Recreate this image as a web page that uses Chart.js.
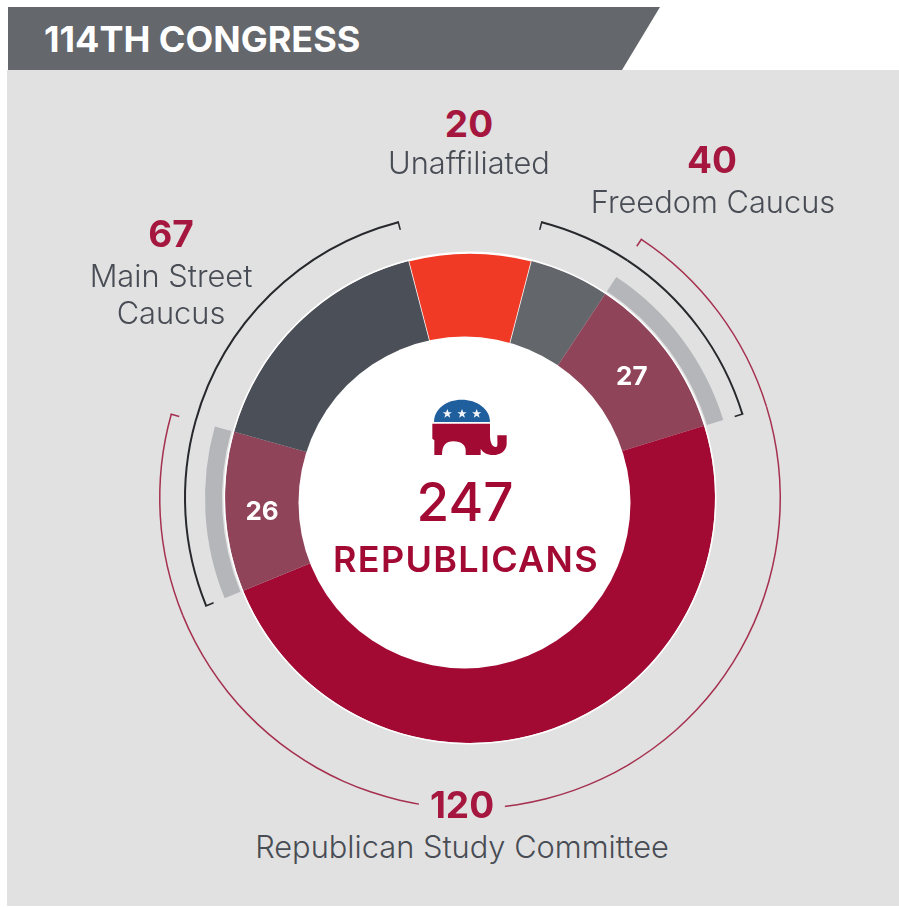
<!DOCTYPE html>
<html lang="en">
<head>
<meta charset="UTF-8">
<title>114th Congress</title>
<script src="https://cdn.jsdelivr.net/npm/chart.js@4"></script>
<style>
    html, body { margin: 0; background: #fff; }
    #page { position: relative; width: 899px; height: 907px; overflow: hidden; font-family: Inter, "Noto Sans", sans-serif; }
    #panel { position: absolute; left: 7px; top: 70px; width: 892px; height: 836px; background: #e1e1e1; }
    #banner { position: absolute; left: 8px; top: 7px; width: 652px; height: 63px; background: #64676b;
        clip-path: polygon(0 0, 100% 0, 614px 100%, 0 100%); }
    #title { position: absolute; left: 44px; top: 18px; font-size: 36px; line-height: 42px; font-weight: 700; color: #fff; white-space: nowrap; }
    #myChart { position: absolute; left: 150px; top: 178px; }
    .num, .name, .mid { position: absolute; transform: translateX(-50%); text-align: center; white-space: nowrap; }
    .num { font-size: 37px; line-height: 40px; font-weight: 700; color: #a5173f; }
    .name { font-size: 30.800px; line-height: 37px; font-weight: 300; color: #484c54; }
    #total { left: 465px; top: 469px; font-size: 53px; line-height: 66px; font-weight: 500; color: #a20a33; }
    #party { left: 466px; top: 537px; font-size: 36px; line-height: 44px; font-weight: 600; letter-spacing: 1.300px; color: #a20a33; }
    #num0 { left: 469px; top: 104px; }
    #name0 { left: 469px; top: 144px; }
    #num1 { left: 712px; top: 140px; }
    #name1 { left: 713px; top: 183px; }
    #num2 { left: 171px; top: 214px; }
    #name2 { left: 171px; top: 257px; }
    #num3 { left: 462px; top: 785px; background: #e1e1e1; padding: 0 11px; }
    #name3 { left: 462px; top: 828px; }
    #elephant { position: absolute; left: 430px; top: 397px; }
</style>
</head>
<body>
<div id="page">
    <div id="panel"></div>
    <div id="banner"></div>
    <div id="title"></div>
    <canvas id="myChart" width="640" height="640"></canvas>
    <svg id="elephant" width="80" height="60" viewBox="330 50 240 180">
        <path fill="#1f5f9e" d="M342 125C342 85 380 58 425 58C470 58 510 85 510 125Z"/>
        <path fill="#a20a33" d="M337 130H510V165C510 185 515 200 528 200C534 200 532 190 532 165H560V190C560 212 540 224 520 224C500 224 488 215 482 205V224H437V210C437 195 425 183 400 183C378 183 366 195 366 224H343V180L337 175Z"/>
        <g fill="#f2f4f7">
            <path id="star" d="M382 86l3.800 9.500h10l-8 6.500 3 10-8.800-6-8.800 6 3-10-8-6.500h10z"/>
            <use href="#star" x="44"/>
            <use href="#star" x="88"/>
        </g>
    </svg>
    <div class="mid" id="total"></div>
    <div class="mid" id="party"></div>
    <div class="num" id="num0"></div><div class="name" id="name0"></div>
    <div class="num" id="num1"></div><div class="name" id="name1"></div>
    <div class="num" id="num2"></div><div class="name" id="name2"></div>
    <div class="num" id="num3"></div><div class="name" id="name3"></div>
</div>
<script>
    var chartTitle = '114TH CONGRESS';
    var totalSeats = 247;
    var partyName = 'REPUBLICANS';

    // the ring, clockwise from the top
    var segmentNames = ['Unaffiliated', 'Freedom only', 'Freedom and Study', 'Study only', 'Main Street and Study', 'Main Street only'];
    var segmentValues = [20, 13, 27, 120, 26, 41];
    var segmentColors = ['#f03a26', '#63666a', '#90445a', '#a20a33', '#90445a', '#4b4f57'];
    var segmentBorders = [1.500, 0, 0, 0, 0, 0];

    // printed labels
    var groupNames = ['Unaffiliated', 'Freedom Caucus', 'Main Street<br>Caucus', 'Republican Study Committee'];
    var groupTotals = [20, 40, 67, 120];

    // which segments each outer ring covers
    var freedomSpan = [1, 2];
    var mainStreetSpan = [4, 5];
    var studySpan = [2, 3, 4];
    var overlapSpan = [2, 4];

    // the white middle sits a little off the ring's centre in the original
    var holeShiftX = -5.500;
    var holeShiftY = 4.500;
    var holeRadius = 166;

    document.querySelector('#title').textContent = chartTitle;
    document.querySelector('#total').textContent = totalSeats;
    document.querySelector('#party').textContent = partyName;
    groupNames.forEach(function (name, i) {
        document.querySelector('#num' + i).textContent = groupTotals[i];
        document.querySelector('#name' + i).innerHTML = name;
    });

    function spanColors(span, color) {
        return segmentValues.map(function (v, i) {
            return span.indexOf(i) >= 0 ? color : 'transparent';
        });
    }

    function ring(colors, weight, extra) {
        return Object.assign({ data: segmentValues, backgroundColor: colors, borderWidth: 0, weight: weight }, extra);
    }

    var blank = spanColors([], 'transparent');

    // ring weights are pixels here, since radius - cutout comes to 155
    var datasets = [
        ring(spanColors(studySpan, '#a5304f'), 1.500, { bracket: [studySpan] }),
        ring(blank, 23.500),
        ring(spanColors(freedomSpan.concat(mainStreetSpan), '#26282c'), 2, { bracket: [freedomSpan, mainStreetSpan] }),
        ring(blank, 19),
        ring(spanColors(overlapSpan, '#b5b6ba'), 17),
        ring(blank, 1.500),
        { data: [1], backgroundColor: '#ffffff', borderWidth: 0, weight: 1.500 },
        ring(segmentColors, 89, { borderWidth: segmentBorders, borderColor: '#ffffff' })
    ];

    var ringExtras = {
        id: 'ringExtras',
        afterDatasetsDraw: function (chart) {
            var ctx = chart.ctx;
            var mainArcs = chart.getDatasetMeta(datasets.length - 1).data;
            var cx = mainArcs[0].x + holeShiftX;
            var cy = mainArcs[0].y + holeShiftY;
            ctx.save();
            ctx.fillStyle = '#ffffff';
            ctx.beginPath();
            ctx.arc(cx, cy, holeRadius, 0, Math.PI * 2);
            ctx.fill();

            // end ticks on the brackets
            datasets.forEach(function (ds, d) {
                if (!ds.bracket) return;
                var arcs = chart.getDatasetMeta(d).data;
                ds.bracket.forEach(function (span) {
                    var first = arcs[span[0]];
                    var last = arcs[span[span.length - 1]];
                    [first.startAngle, last.endAngle].forEach(function (a) {
                        ctx.strokeStyle = ds.backgroundColor[span[0]];
                        ctx.lineWidth = 1.500;
                        ctx.beginPath();
                        ctx.moveTo(first.x + Math.cos(a) * first.outerRadius, first.y + Math.sin(a) * first.outerRadius);
                        ctx.lineTo(first.x + Math.cos(a) * (first.outerRadius - 9), first.y + Math.sin(a) * (first.outerRadius - 9));
                        ctx.stroke();
                    });
                });
            });

            // numbers on the two overlap segments, halfway between rim and hole
            ctx.fillStyle = '#ffffff';
            ctx.font = '700 26px Inter, sans-serif';
            ctx.textAlign = 'center';
            ctx.textBaseline = 'middle';
            overlapSpan.forEach(function (i) {
                var arc = mainArcs[i];
                var a = (arc.startAngle + arc.endAngle) / 2;
                var r = (arc.outerRadius + holeRadius) / 2;
                ctx.fillText(segmentValues[i], (arc.x + cx) / 2 + Math.cos(a) * r, (arc.y + cy) / 2 + Math.sin(a) * r);
            });
            ctx.restore();
        }
    };

    new Chart(document.querySelector('#myChart'), {
        type: 'doughnut',
        data: { labels: segmentNames, datasets: datasets },
        options: {
            responsive: false,
            animation: false,
            cutout: (156 / 311 * 100) + '%',
            rotation: -segmentValues[0] / totalSeats * 180,
            layout: { padding: 9 },
            plugins: { legend: { display: false }, tooltip: { enabled: false } }
        },
        plugins: [ringExtras]
    });
</script>
</body>
</html>
